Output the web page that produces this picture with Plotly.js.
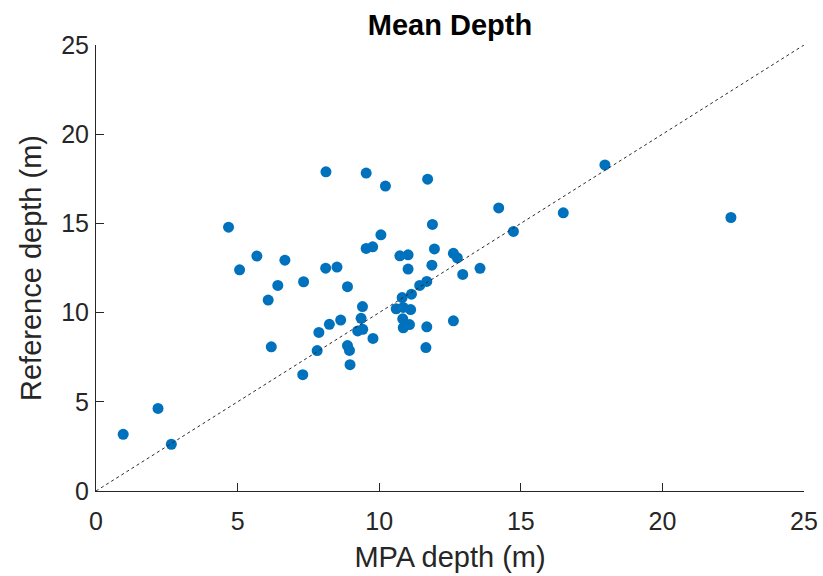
<!DOCTYPE html>
<html>
<head>
<meta charset="utf-8">
<script src="https://cdn.plot.ly/plotly-3.0.1.min.js"></script>
<style>html,body{margin:0;padding:0;background:#fff;}#chart{width:823px;height:576px;}</style>
</head>
<body>
<div id="chart"></div>
<script>
// MPA depth (m) vs reference depth (m)
const mpaDepth = [0.96, 2.19, 2.66, 4.68, 5.07, 5.68, 6.08, 6.19, 6.42, 6.67,
  7.33, 7.30, 7.87, 7.81, 8.11, 8.12, 8.24, 8.51, 8.64, 8.88,
  8.88, 8.95, 8.97, 9.24, 9.41, 9.36, 9.42, 9.54, 9.54, 9.77,
  9.78, 10.06, 10.22, 10.60, 10.73, 10.81, 10.85, 10.83, 10.85, 11.02,
  11.02, 11.07, 11.11, 11.14, 11.43, 11.68, 11.68, 11.65, 11.71, 11.86,
  11.88, 11.95, 12.62, 12.76, 12.95, 12.62, 13.56, 14.22, 14.74, 16.50,
  17.97, 22.42];
const refDepth = [3.18, 4.63, 2.62, 14.79, 12.40, 13.17, 10.70, 8.08, 11.52, 12.94,
  11.73, 6.52, 8.89, 7.87, 12.49, 17.89, 9.34, 12.55, 9.58, 11.45,
  8.15, 7.88, 7.08, 8.97, 10.34, 9.68, 9.06, 17.82, 13.60, 13.69,
  8.55, 14.36, 17.09, 10.21, 13.18, 10.84, 10.29, 9.65, 9.15, 13.24,
  12.44, 9.33, 10.17, 11.03, 11.52, 11.75, 9.20, 8.04, 17.48, 12.66,
  14.94, 13.57, 13.32, 13.07, 12.14, 9.54, 12.48, 15.87, 14.55, 15.59,
  18.28, 15.33];
const oneToOne = [0, 25];
const tickVals = [0, 5, 10, 15, 20, 25];

const font = "'Liberation Sans', Arial, Helvetica, sans-serif";
const axisColor = '#262626';

const traces = [
  {
    x: mpaDepth, y: refDepth, type: 'scatter', mode: 'markers',
    marker: {color: '#0072BD', size: 11, line: {width: 0}},
    hoverinfo: 'x+y', showlegend: false
  },
  {
    x: oneToOne, y: oneToOne, type: 'scatter', mode: 'lines',
    line: {color: '#2a2a2a', width: 1, dash: '3px,3px'},
    hoverinfo: 'skip', showlegend: false
  }
];

const layout = {
  width: 823, height: 576,
  margin: {l: 96, r: 19, t: 45, b: 85, pad: 0},
  paper_bgcolor: '#ffffff', plot_bgcolor: '#ffffff',
  font: {family: font, color: axisColor},
  title: {
    text: '<b>Mean Depth</b>',
    font: {family: font, size: 29, color: '#000000'},
    x: 0.5, xref: 'paper', xanchor: 'center',
    y: 1 - 25/576, yref: 'container', yanchor: 'middle'
  },
  xaxis: {
    range: [0, 25], tickvals: tickVals, ticktext: tickVals.map(String),
    showgrid: false, zeroline: false,
    showline: true, linecolor: axisColor, linewidth: 1, mirror: false,
    ticks: 'inside', ticklen: 8, tickwidth: 1, tickcolor: axisColor,
    ticklabelstandoff: 8,
    tickfont: {family: font, size: 25, color: axisColor},
    title: {text: 'MPA depth (m)', font: {family: font, size: 29, color: axisColor}, standoff: 12},
    fixedrange: true
  },
  yaxis: {
    range: [0, 25], tickvals: tickVals, ticktext: tickVals.map(String),
    showgrid: false, zeroline: false,
    showline: true, linecolor: axisColor, linewidth: 1, mirror: false,
    ticks: 'inside', ticklen: 8, tickwidth: 1, tickcolor: axisColor,
    ticklabelstandoff: 1,
    tickfont: {family: font, size: 25, color: axisColor},
    title: {text: 'Reference depth (m)', font: {family: font, size: 29, color: axisColor}, standoff: 11},
    fixedrange: true
  },
  showlegend: false
};

Plotly.newPlot('chart', traces, layout, {displayModeBar: false, staticPlot: true});
</script>
</body>
</html>
